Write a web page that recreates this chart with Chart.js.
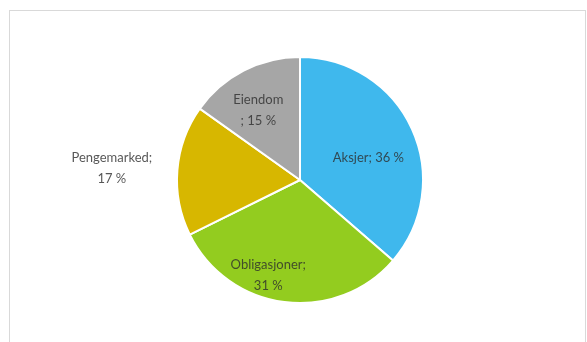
<!DOCTYPE html>
<html>
<head>
<meta charset="utf-8">
<script src="https://cdn.jsdelivr.net/npm/chart.js@4.4.0/dist/chart.umd.min.js"></script>
<style>
    body { margin: 0; background: #fff; }
    #wrap { position: relative; width: 587px; height: 342px; }
    #frame {
        position: absolute; left: 9px; top: 10px; width: 575px; height: 340px;
        border: 1px solid #d9d9d9;
    }
    canvas { position: absolute; left: 0; top: 0; }
</style>
</head>
<body>
<div id="wrap">
    <div id="frame"></div>
    <canvas id="pieChart" width="587" height="342"></canvas>
</div>
<script>
const categories = ['Aksjer', 'Obligasjoner', 'Pengemarked', 'Eiendom'];
const shares = [36, 31, 17, 15];
const sliceColors = ['#3fb8ed', '#93cc1f', '#d7b700', '#a6a6a6'];

// label anchor relative to pie centre, in units of the radius (Excel best fit placement)
const labelAnchor = [[0.556, -0.177], [-0.258, 0.774], [-1.53, -0.097], [-0.339, -0.565]];
const labelLines = [
    ['Aksjer; 36 %'],
    ['Obligasjoner;', '31 %'],
    ['Pengemarked;', '17 %'],
    ['Eiendom', '; 15 %']
];

const pieLabels = {
    id: 'pieLabels',
    afterDatasetsDraw(chart) {
        const ctx = chart.ctx;
        const arc = chart.getDatasetMeta(0).data[0];
        const r = arc.outerRadius;
        ctx.save();
        ctx.font = '13px Lato, "Open Sans", sans-serif';
        ctx.fillStyle = 'rgba(45,45,45,0.8)';
        ctx.textAlign = 'center';
        ctx.textBaseline = 'middle';
        labelLines.forEach((lines, i) => {
            const cx = arc.x + labelAnchor[i][0] * r;
            const cy = arc.y + labelAnchor[i][1] * r;
            const lh = 21;
            lines.forEach((t, j) => {
                ctx.fillText(t, cx, cy + (j - (lines.length - 1) / 2) * lh);
            });
        });
        ctx.restore();
    }
};

const ctx = document.getElementById('pieChart').getContext('2d');
new Chart(ctx, {
    type: 'pie',
    data: {
        labels: categories,
        datasets: [{
            data: shares,
            backgroundColor: sliceColors,
            borderColor: '#ffffff',
            borderWidth: 2
        }]
    },
    plugins: [pieLabels],
    options: {
        responsive: false,
        animation: false,
        layout: { padding: { left: 176, right: 163, top: 56, bottom: 38 } },
        plugins: {
            legend: { display: false },
            tooltip: { enabled: false }
        }
    }
});
</script>
</body>
</html>
